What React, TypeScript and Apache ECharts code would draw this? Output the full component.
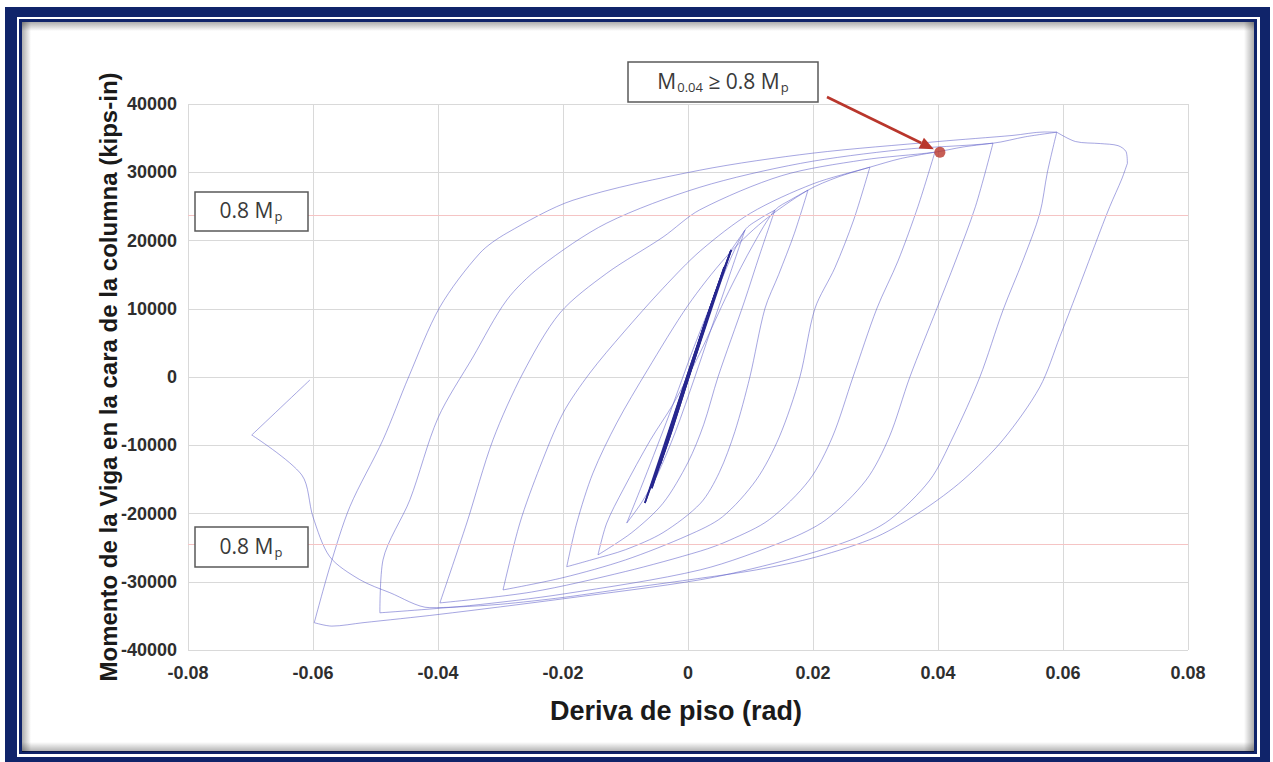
import React, { useEffect, useRef } from 'react';
import * as echarts from 'echarts';

// Axis ranges / ticks
const xRange = [-0.08, 0.08];
const xStep = 0.02;
const yRange = [-40000, 40000];
const yStep = 10000;

// 0.8 Mp reference levels (kips-in)
const mpLevels = [23800, -24400];

// Marked point M(0.04)
const markedPoint = [0.0403, 32940];

// Elastic cycles (dense central streak)
const elasticCycles = [
  [0, 0], [0.0025, 7300], [0.0045, 12600], [0.0025, 6900], [0, -300], [-0.0025, -7600], [-0.0045, -12900],
  [-0.0025, -7200], [0, 300], [0.003, 8600], [0.0058, 16100], [0.0032, 8800], [0, -400], [-0.003, -8900],
  [-0.0058, -16300], [-0.0032, -8600], [0, 500], [0.004, 11300], [0.0069, 18600], [0.004, 10700], [0, -300],
  [-0.004, -11100], [-0.0069, -18450], [-0.004, -10500], [0, 500], [0.004, 11400], [0.0069, 18600],
];

const cycle010 = [
  [0.0069, 18600], [0.0091, 21500], [0.0065, 14500], [0.0035, 6500], [0.0011, 0], [-0.002, -8000], [-0.005, -14500],
  [-0.0075, -18500], [-0.0098, -21400], [-0.007, -15000], [-0.003, -5500], [0.001, 4500], [0.005, 13500],
  [0.0091, 21500], [0.0115, 23200], [0.0139, 24450],
];

const cycle015 = [
  [0.0139, 24450], [0.0115, 18000], [0.009, 11000], [0.0048, 0], [0.0025, -7000], [0, -12500], [-0.004, -18500],
  [-0.009, -22800], [-0.0144, -26060], [-0.013, -21400], [-0.0104, -16540], [-0.006, -9200], [-0.0024, -4000],
  [0.0019, 3500], [0.0065, 12500], [0.0105, 19500], [0.0139, 24450], [0.0165, 26000], [0.0192, 27380],
];

const cycle020 = [
  [0.0192, 27380], [0.017, 21000], [0.0145, 15000], [0.0123, 10000], [0.0099, 0], [0.0075, -8000], [0.005, -14000],
  [0.002, -18500], [-0.004, -22800], [-0.01, -25300], [-0.0155, -26800], [-0.0194, -27800], [-0.0178, -21400],
  [-0.0152, -14050], [-0.0114, -6730], [-0.0065, 1000], [0, 10500], [0.006, 17500], [0.012, 22800], [0.0192, 27380],
  [0.024, 29300], [0.0291, 30740],
];

const cycle030 = [
  [0.0291, 30740], [0.0265, 23000], [0.0235, 16000], [0.0203, 10000], [0.0179, 0], [0.0146, -8800], [0.0109, -15100],
  [0.0055, -20500], [0, -23200], [-0.01, -26800], [-0.02, -29400], [-0.0296, -31200], [-0.0269, -21400],
  [-0.0237, -13200], [-0.02, -5300], [-0.0157, 590], [-0.0104, 6440], [-0.004, 13000], [0.002, 18500], [0.01, 24000],
  [0.02, 28300], [0.0291, 30740], [0.034, 32000], [0.0395, 32940],
];

const cycle040 = [
  [0.0395, 32940], [0.0368, 25000], [0.0336, 17000], [0.0302, 10000], [0.0264, 0], [0.0231, -8800], [0.0194, -15100],
  [0.013, -20900], [0.0067, -23900], [0.002, -25500], [-0.01, -28500], [-0.025, -31500], [-0.0397, -33100],
  [-0.0354, -21400], [-0.0312, -9200], [-0.0264, 590], [-0.0205, 9370], [-0.013, 15200], [-0.004, 20500],
  [0.0019, 24500], [0.015, 29500], [0.028, 31800], [0.0395, 32940], [0.044, 33700], [0.0488, 34260],
];

const cycle050 = [
  [0.0488, 34260], [0.046, 25000], [0.0428, 17000], [0.0398, 10000], [0.0355, 0], [0.0322, -8800], [0.0285, -15100],
  [0.0221, -20900], [0.0158, -23900], [0.002, -28250], [-0.02, -31800], [-0.035, -33500], [-0.0493, -34550],
  [-0.0488, -26800], [-0.0445, -18000], [-0.04, -6000], [-0.0344, 2930], [-0.029, 11270], [-0.0237, 16100],
  [-0.013, 22550], [0.0019, 27800], [0.018, 31300], [0.034, 33300], [0.0488, 34260], [0.054, 35200], [0.059, 35870],
];

const cycle060 = [
  [0.059, 35870], [0.0575, 30000], [0.0563, 24000], [0.0536, 17100], [0.0504, 9800], [0.0467, 0], [0.0424, -8800],
  [0.0387, -15100], [0.0323, -20900], [0.026, -23900], [0.015, -27000], [0.002, -29700], [-0.02, -32500],
  [-0.04, -34800], [-0.052, -36000], [-0.057, -36500], [-0.0598, -36000], [-0.0573, -27800], [-0.0541, -19000],
  [-0.0488, -9200], [-0.0447, 0], [-0.0397, 10250], [-0.0333, 18150], [-0.029, 21080], [-0.0184, 25900],
  [0.0019, 30300], [0.02, 32800], [0.04, 34500], [0.052, 35400], [0.057, 35900], [0.059, 35870],
];

const finalExcursion = [
  [0.059, 35870], [0.062, 34500], [0.066, 34200], [0.0688, 33900], [0.0701, 33000], [0.0703, 31300], [0.0694, 29000],
  [0.0675, 25000], [0.066, 21500], [0.0622, 12300], [0.0595, 5900], [0.0563, -1460], [0.0504, -9200], [0.044, -15100],
  [0.0376, -19500], [0.0302, -23400], [0.0206, -26350], [0.011, -28250], [0.0003, -29700], [-0.01, -31000],
  [-0.02, -32300], [-0.03, -33300], [-0.037, -33700], [-0.0413, -33800], [-0.0477, -31600], [-0.0525, -29700],
  [-0.0573, -26350], [-0.06, -20500], [-0.0618, -14350], [-0.0698, -8500], [-0.0605, -440],
];

const cycleSets = [cycle010, cycle015, cycle020, cycle030, cycle040, cycle050, cycle060, finalExcursion];

const NAVY = '#10246a';
const LOOP = 'rgba(92, 92, 200, 0.55)';
const RED = '#b9362c';
const FONT = '"Liberation Sans", Arial, sans-serif';
const BOXFONT = '"Open Sans", "Noto Sans", sans-serif';

// split a path into branches where the drift direction reverses (peaks stay sharp)
function splitBranches(pts: number[][]) {
  const out: number[][][] = [];
  let cur: number[][] = [pts[0]];
  let dir = 0;
  for (let i = 1; i < pts.length; i++) {
    const d = Math.sign(pts[i][0] - pts[i - 1][0]);
    if (dir !== 0 && d !== 0 && d !== dir) {
      out.push(cur);
      cur = [pts[i - 1]];
    }
    if (d !== 0) dir = d;
    cur.push(pts[i]);
  }
  out.push(cur);
  return out;
}

export default function App() {
  const ref = useRef<HTMLDivElement>(null);

  useEffect(() => {
    if (!ref.current) return;
    const chart = echarts.init(ref.current, undefined, { renderer: 'svg' });

    const branchSeries = (pts: number[][], color: string, width: number, z: number) =>
      splitBranches(pts).map((b) => ({
        type: 'line',
        data: b,
        showSymbol: false,
        smooth: 0.3,
        lineStyle: { color, width },
        z,
        silent: true,
      }));

    const loopSeries = cycleSets.flatMap((d) => branchSeries(d, LOOP, 1, 3));
    const elasticSeries = branchSeries(elasticCycles, '#27278f', 1.7, 4);

    chart.setOption({
      animation: false,
      backgroundColor: '#ffffff',
      grid: { left: 188, right: 85, top: 104, bottom: 112, containLabel: false },
      xAxis: {
        type: 'value',
        min: xRange[0],
        max: xRange[1],
        interval: xStep,
        name: 'Deriva de piso (rad)',
        nameLocation: 'middle',
        nameGap: 47,
        nameMoveOverlap: false,
        nameTextStyle: {
          fontFamily: FONT, fontWeight: 'bold', fontSize: 27, color: '#1a1a1a', padding: [0, 24, 0, 0],
        },
        axisLine: { show: false },
        axisTick: { show: false },
        axisLabel: {
          margin: 14,
          fontFamily: FONT,
          fontWeight: 'bold',
          fontSize: 18,
          color: '#2e2e2e',
          formatter: (v: number) => (Math.abs(v) < 1e-9 ? '0' : v.toFixed(2)),
        },
        splitLine: { show: true, lineStyle: { color: '#d9d9d9', width: 1 } },
      },
      yAxis: {
        type: 'value',
        min: yRange[0],
        max: yRange[1],
        interval: yStep,
        name: 'Momento de la Viga en la cara de la columna (kips-in)',
        nameLocation: 'middle',
        nameGap: 68,
        nameMoveOverlap: false,
        nameTextStyle: { fontFamily: FONT, fontWeight: 'bold', fontSize: 24, color: '#1a1a1a' },
        axisLine: { show: false },
        axisTick: { show: false },
        axisLabel: {
          margin: 11,
          fontFamily: FONT,
          fontWeight: 'bold',
          fontSize: 18,
          color: '#2e2e2e',
          formatter: (v: number) => String(Math.round(v)),
        },
        splitLine: { show: true, lineStyle: { color: '#d9d9d9', width: 1 } },
      },
      series: [
        ...elasticSeries,
        ...loopSeries,
        {
          type: 'scatter',
          data: [markedPoint],
          symbolSize: 11,
          itemStyle: { color: RED },
          z: 6,
          silent: true,
        },
      ],
    });

    // 0.8 Mp reference lines, positioned through the chart's own axes
    const mpLines = mpLevels.map((v) => {
      const a = chart.convertToPixel({ gridIndex: 0 }, [xRange[0], v]) as number[];
      const b = chart.convertToPixel({ gridIndex: 0 }, [xRange[1], v]) as number[];
      const y = Math.round(a[1]) + 0.5;
      return {
        type: 'line', z: 50, silent: true,
        shape: { x1: a[0], y1: y, x2: b[0], y2: y },
        style: { stroke: '#f5c4c4', lineWidth: 1 },
      };
    });

    const tip = chart.convertToPixel({ gridIndex: 0 }, markedPoint) as number[];
    const start = [827, 97];
    const end = [tip[0] - 6, tip[1] - 3];
    const ang = Math.atan2(end[1] - start[1], end[0] - start[0]);
    const hl = 14;
    const hw = 6;
    const base = [end[0] - hl * Math.cos(ang), end[1] - hl * Math.sin(ang)];
    const head = [
      end,
      [base[0] + hw * Math.sin(ang), base[1] - hw * Math.cos(ang)],
      [base[0] - hw * Math.sin(ang), base[1] + hw * Math.cos(ang)],
    ];

    const shadow = (x: number, y: number, w: number, h: number, dir: number[]) => ({
      type: 'rect',
      z: -5,
      silent: true,
      shape: { x, y, width: w, height: h },
      style: {
        fill: new echarts.graphic.LinearGradient(dir[0], dir[1], dir[2], dir[3], [
          { offset: 0, color: 'rgba(0,0,0,0.32)' },
          { offset: 1, color: 'rgba(0,0,0,0)' },
        ]),
      },
    });

    const boxStyle = { fill: '#ffffff', stroke: '#5a5a5a', lineWidth: 1.5 };
    const rich = {
      m: { fontSize: 21, lineHeight: 26, fontFamily: BOXFONT, fill: '#3a3a3a' },
      s: { fontSize: 13, lineHeight: 13, padding: [12, 0, 0, 1], fontFamily: BOXFONT, fill: '#3a3a3a' },
    };
    const label = (cx: number, cy: number, text: string) => ({
      type: 'text',
      z: 101,
      silent: true,
      style: { x: cx, y: cy, text, align: 'center', verticalAlign: 'middle', rich, fill: '#3a3a3a' },
    });

    chart.setOption({
      graphic: [
        { type: 'rect', z: -10, silent: true, shape: { x: 5, y: 7, width: 1265, height: 755 }, style: { fill: NAVY } },
        { type: 'rect', z: -9, silent: true, shape: { x: 17, y: 17, width: 1243, height: 740 }, style: { fill: '#ffffff' } },
        {
          type: 'rect', z: -8, silent: true,
          shape: { x: 20.5, y: 20.5, width: 1235, height: 732 },
          style: { fill: '#ffffff', stroke: NAVY, lineWidth: 3 },
        },
        shadow(22, 22, 1232, 9, [0, 0, 0, 1]),
        shadow(22, 22, 9, 730, [0, 0, 1, 0]),
        shadow(22, 742, 1232, 10, [0, 1, 0, 0]),
        shadow(1244, 22, 10, 730, [1, 0, 0, 0]),
        ...mpLines,
        { type: 'rect', z: 100, silent: true, shape: { x: 628, y: 62, width: 190, height: 40 }, style: boxStyle },
        label(723, 81, '{m|M}{s|0.04}{m| ≥ 0.8 M}{s|p}'),
        { type: 'rect', z: 100, silent: true, shape: { x: 195, y: 192, width: 113, height: 39 }, style: boxStyle },
        label(251, 210, '{m|0.8 M}{s|p}'),
        { type: 'rect', z: 100, silent: true, shape: { x: 195, y: 527, width: 113, height: 40 }, style: boxStyle },
        label(251, 546, '{m|0.8 M}{s|p}'),
        {
          type: 'line', z: 102, silent: true,
          shape: { x1: start[0], y1: start[1], x2: base[0], y2: base[1] },
          style: { stroke: RED, lineWidth: 2.6 },
        },
        { type: 'polygon', z: 102, silent: true, shape: { points: head }, style: { fill: RED } },
      ],
    });

    return () => chart.dispose();
  }, []);

  return (
    <div
      ref={ref}
      style={{ position: 'fixed', left: 0, top: 0, width: 1273, height: 762, background: '#ffffff' }}
    />
  );
}
